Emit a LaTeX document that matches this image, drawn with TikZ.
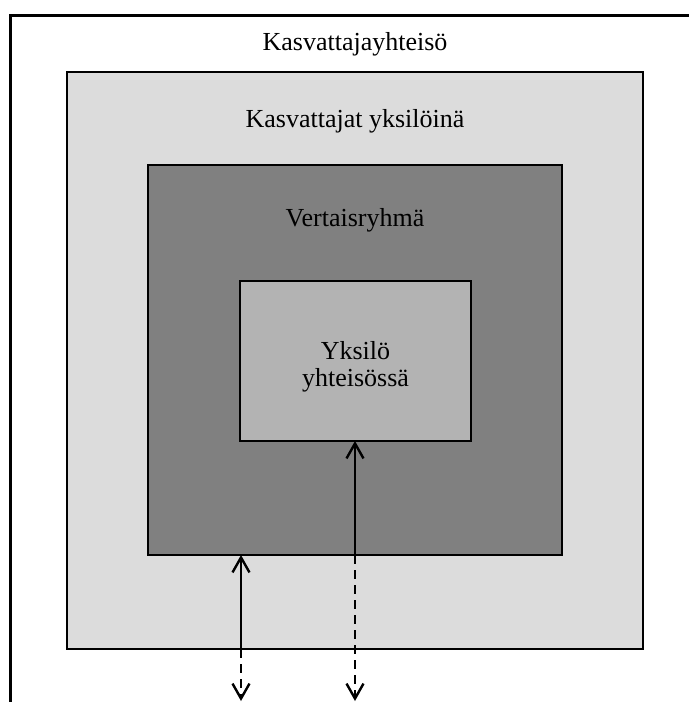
\documentclass[tikz,border=0pt]{standalone}
\usepackage{fontspec}
\setmainfont{Liberation Serif}
\usetikzlibrary{arrows.meta}
\begin{document}
\begin{tikzpicture}[x=0.5pt,y=-0.5pt,
  layer/.style={draw=black,line width=1.4pt,inner sep=0pt,outer sep=0pt},
  caption/.style={font=\fontsize{13}{15}\selectfont,anchor=base,inner sep=0pt},
  link/.style={line width=1.2pt,-{Straight Barb[length=7.5pt,width=8.5pt]}},
  linkdash/.style={link,dash pattern=on 4.5pt off 3pt}]
\useasboundingbox (0,0) rectangle (689,702);
\definecolor{ringA}{HTML}{DCDCDC}
\definecolor{ringB}{HTML}{808080}
\definecolor{ringC}{HTML}{B3B3B3}
% outermost frame: only its left and top sides lie inside the page
\coordinate (frameBL) at (10,702);
\coordinate (frameTL) at (10,15);
\coordinate (frameTR) at (689,15);
\draw[line width=1.5pt,line join=miter] (frameBL) -- (frameTL) -- (frameTR);
% nested layers
\node[layer,fill=ringA,minimum width=288pt,minimum height=288.5pt] (educators) at (355,360.5) {};
\node[layer,fill=ringB,minimum width=207pt,minimum height=195pt] (peers) at (355,360) {};
\node[layer,fill=ringC,minimum width=115.5pt,minimum height=80pt] (self) at (355.5,361) {};
% captions
\node[caption] (tCommunity) at (355,50) {Kasvattajayhteisö};
\node[caption] (tEducators) at (355,127) {Kasvattajat yksilöinä};
\node[caption] (tPeers) at (355,226) {Vertaisryhmä};
\node[caption] (tSelf1) at (355.5,359) {Yksilö};
\node[caption] (tSelf2) at (355.5,386) {yhteisössä};
% influence arrows
\coordinate (colA) at (241,0);
\coordinate (colB) at (355,0);
\coordinate (endA) at (241,701);
\coordinate (endB) at (355,701);
\draw[link] (educators.south -| colA) -- (peers.south -| colA);
\draw[linkdash] (educators.south -| colA) -- (endA);
\draw[link] (peers.south -| colB) -- (self.south -| colB);
\draw[linkdash] (peers.south -| colB) -- (endB);
\end{tikzpicture}
\end{document}
